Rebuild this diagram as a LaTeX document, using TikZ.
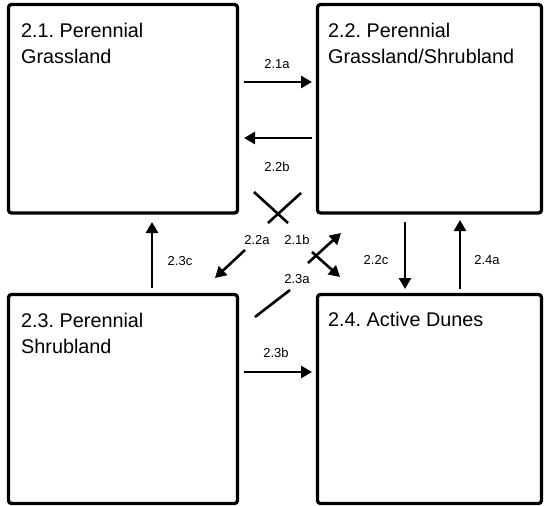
\documentclass[tikz,border=0pt]{standalone}
\usepackage{fontspec}
\setmainfont{Liberation Sans}
\usetikzlibrary{arrows.meta}
\frenchspacing
\tikzset{
  statebox/.style={draw=black, line width=3.3pt, rounded corners=3pt, fill=white,
    anchor=north west, inner sep=0pt, outer sep=0pt, minimum width=229pt},
  title/.style={anchor=base west, align=left, inner sep=0pt,
    font=\fontsize{19.8}{26}\selectfont},
  arr/.style={draw=black, line width=2.6pt, -{Triangle[length=11pt,width=12pt]}},
  seg/.style={draw=black, line width=2.6pt},
  tlabel/.style={font=\fontsize{13}{15}\selectfont, inner sep=0pt}
}
\begin{document}
\begin{tikzpicture}[x=1pt, y=-1pt]
\useasboundingbox (0,0) rectangle (544,506);

% state boxes
\node[statebox, minimum height=208.5pt] (A) at (8.5,4.5) {};
\node[statebox, minimum height=208.5pt, minimum width=224pt] (B) at (317.5,4.5) {};
\node[statebox, minimum height=209pt] (C) at (8.5,294.5) {};
\node[statebox, minimum height=209pt, minimum width=224pt] (D) at (317.5,294.5) {};

% box titles (anchored on the baseline of their last line)
\node[title] (At) at (21,63) {2.1. Perennial\\Grassland};
\node[title] (Bt) at (328,63) {2.2. Perennial\\Grassland/Shrubland};
\node[title] (Ct) at (21,353) {2.3. Perennial\\Shrubland};
\node[title] (Dt) at (328,326) {2.4. Active Dunes};

% connector end points
\coordinate (t21a-s) at (244,82);   \coordinate (t21a-e) at (312,82);
\coordinate (t22b-s) at (312,138);  \coordinate (t22b-e) at (244,138);
\coordinate (t23b-s) at (244,372);  \coordinate (t23b-e) at (312,372);
\coordinate (t23c-s) at (152,288);  \coordinate (t23c-e) at (152,222);
\coordinate (t22c-s) at (405,222);  \coordinate (t22c-e) at (405,289);
\coordinate (t24a-s) at (460,289);  \coordinate (t24a-e) at (460,220);
\coordinate (t22a-s) at (301,193);  \coordinate (t22a-m) at (268,223);
\coordinate (t22a-n) at (245,250);  \coordinate (t22a-e) at (215,278);
\coordinate (t21b-s) at (254,192);  \coordinate (t21b-m) at (288,223);
\coordinate (t21b-n) at (312,252);  \coordinate (t21b-e) at (340,277);
\coordinate (t23a-s) at (255,317);  \coordinate (t23a-m) at (290,290);
\coordinate (t23a-n) at (308,263);  \coordinate (t23a-e) at (341,233);

% straight transitions
\draw[arr] (t21a-s) -- (t21a-e);
\draw[arr] (t22b-s) -- (t22b-e);
\draw[arr] (t23b-s) -- (t23b-e);
\draw[arr] (t23c-s) -- (t23c-e);
\draw[arr] (t22c-s) -- (t22c-e);
\draw[arr] (t24a-s) -- (t24a-e);

% diagonal transitions, interrupted by their labels
\draw[seg] (t22a-s) -- (t22a-m);
\draw[arr] (t22a-n) -- (t22a-e);
\draw[seg] (t21b-s) -- (t21b-m);
\draw[arr] (t21b-n) -- (t21b-e);
\draw[seg] (t23a-s) -- (t23a-m);
\draw[arr] (t23a-n) -- (t23a-e);

% transition labels
\node[tlabel] (l21a) at (277,64)  {2.1a};
\node[tlabel] (l22b) at (277,167) {2.2b};
\node[tlabel] (l22a) at (257,240) {2.2a};
\node[tlabel] (l21b) at (297,240) {2.1b};
\node[tlabel] (l23a) at (297,279) {2.3a};
\node[tlabel] (l23c) at (180,261) {2.3c};
\node[tlabel] (l22c) at (376,260) {2.2c};
\node[tlabel] (l24a) at (487,260) {2.4a};
\node[tlabel] (l23b) at (276,353) {2.3b};
\end{tikzpicture}
\end{document}
